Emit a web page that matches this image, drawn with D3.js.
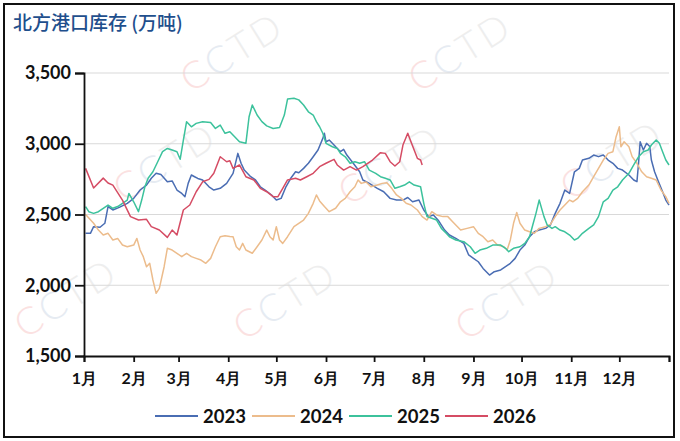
<!DOCTYPE html>
<html lang="zh">
<head>
<meta charset="UTF-8">
<title>北方港口库存</title>
<script src="https://cdn.jsdelivr.net/npm/d3@7/dist/d3.min.js"></script>
<style>
  body { margin: 0; background: #fff; }
  svg { display: block; }
  .tick text { font-family: Lato, "Open Sans", sans-serif; font-weight: 700; }
</style>
</head>
<body>
<script>
// 数据：横轴为一年中的第几天（0-365），纵轴为库存（万吨）
var monthLabels = ['1月','2月','3月','4月','5月','6月','7月','8月','9月','10月','11月','12月'];
var monthStarts = [0,31,59,90,120,151,181,212,243,273,304,334,365];
var yTicks = [1500, 2000, 2500, 3000, 3500];
var years = ['2023','2024','2025','2026'];
var colors = ['#4a6db3', '#ecbc8c', '#3cc29c', '#d54c64'];

var days2023 = [1,4,6,10,13,15,18,22,27,31,35,39,42,45,48,52,55,58,61,63,65,67,69,71,74,78,81,85,89,93,96,98,100,104,107,110,113,117,120,123,126,129,132,134,137,140,143,146,149,150,151,153,156,160,162,164,168,172,174,178,183,187,191,195,199,202,205,209,212,215,218,221,225,228,232,237,240,243,246,249,253,256,260,263,266,269,272,275,278,281,284,288,291,294,297,300,303,306,309,311,315,318,321,324,327,330,333,336,340,343,345,346,347,349,351,353,354,356,358,361,363,365];
var vals2023 = [2367,2367,2414,2410,2438,2556,2532,2550,2579,2614,2673,2708,2756,2791,2783,2731,2737,2673,2649,2626,2720,2779,2767,2755,2744,2696,2673,2685,2720,2791,2932,2862,2814,2767,2744,2696,2673,2638,2602,2614,2696,2756,2802,2795,2826,2862,2908,2956,3038,3074,3014,3026,2991,2944,2960,2920,2862,2802,2744,2720,2685,2661,2614,2602,2602,2620,2590,2602,2532,2485,2497,2460,2390,2355,2331,2296,2214,2190,2166,2119,2072,2096,2108,2131,2155,2190,2249,2284,2343,2378,2390,2402,2426,2508,2579,2673,2649,2802,2826,2885,2897,2920,2909,2920,2885,2862,2826,2814,2779,2744,2732,2862,3014,2956,3003,2980,2885,2802,2744,2661,2602,2567];

var days2024 = [1,6,9,12,15,18,21,24,27,31,33,35,37,39,41,43,45,47,50,52,55,58,61,64,67,70,73,76,79,82,85,88,91,93,95,97,99,101,105,108,111,114,116,118,120,122,124,127,131,134,137,140,143,145,147,150,153,157,160,163,166,169,171,173,176,179,183,186,189,192,195,198,201,204,208,211,214,217,220,224,227,230,235,239,243,246,249,252,255,258,262,264,266,268,270,272,275,278,281,284,288,291,294,297,300,303,305,308,311,315,318,321,324,327,330,332,334,335,337,340,342,345,348,351,354,357,360,363,365];
var vals2024 = [2500,2438,2390,2355,2367,2320,2331,2284,2272,2284,2331,2249,2202,2131,2155,2037,1943,1978,2131,2261,2249,2226,2202,2226,2202,2190,2178,2155,2190,2272,2343,2350,2345,2343,2272,2249,2296,2249,2226,2272,2320,2390,2343,2320,2414,2320,2296,2343,2414,2438,2461,2508,2579,2638,2596,2556,2520,2544,2590,2614,2661,2696,2744,2720,2730,2696,2708,2720,2725,2685,2638,2614,2579,2567,2532,2485,2461,2520,2497,2485,2485,2449,2390,2402,2414,2367,2343,2308,2320,2284,2272,2249,2320,2438,2514,2438,2390,2378,2367,2402,2414,2430,2485,2532,2567,2602,2590,2614,2661,2708,2767,2826,2885,2932,2944,3050,3120,2979,3014,2979,2909,2862,2802,2767,2756,2744,2673,2626,2579];

var days2025 = [1,3,6,9,12,15,18,21,24,27,28,31,34,36,38,40,43,46,49,52,55,58,60,62,64,67,70,74,79,82,85,88,91,94,97,101,103,105,108,111,114,118,122,125,127,131,134,137,140,143,145,147,149,151,155,158,160,163,166,169,172,175,178,182,185,188,191,194,197,200,203,206,210,212,214,217,220,223,226,228,232,237,241,244,247,251,255,260,263,265,268,272,275,278,280,282,284,287,289,292,294,297,300,303,306,308,311,315,318,321,324,327,330,333,336,340,343,346,349,352,354,357,359,361,363,365];
var vals2025 = [2556,2520,2508,2520,2544,2567,2544,2556,2579,2602,2649,2590,2520,2602,2696,2756,2802,2873,2944,2967,2956,2944,2890,3026,3156,3120,3144,3156,3150,3108,3132,3074,3085,3050,3014,3003,3191,3274,3203,3156,3126,3108,3115,3203,3316,3321,3310,3274,3226,3203,3156,3120,3074,3003,2979,2967,2932,2908,2862,2873,2862,2873,2814,2791,2767,2756,2744,2685,2696,2708,2731,2708,2696,2579,2485,2473,2461,2402,2367,2343,2320,2308,2272,2226,2249,2261,2284,2284,2261,2237,2261,2272,2296,2343,2426,2508,2602,2485,2426,2402,2414,2390,2378,2355,2320,2331,2367,2402,2426,2485,2590,2614,2673,2696,2744,2791,2850,2908,2944,2956,2991,3026,3003,2944,2885,2850];

var days2026 = [1,6,12,15,18,24,29,34,39,42,47,52,55,58,62,66,70,74,78,81,85,89,91,93,97,101,106,110,114,118,121,124,127,132,135,139,143,147,151,156,158,162,166,170,174,180,185,188,191,194,197,199,202,204,208,210,211];
var vals2026 = [2826,2687,2757,2723,2708,2602,2485,2461,2466,2414,2390,2338,2390,2355,2532,2567,2661,2731,2748,2791,2908,2873,2880,2826,2850,2767,2744,2685,2661,2626,2626,2685,2744,2756,2744,2767,2791,2838,2862,2890,2850,2814,2838,2814,2838,2885,2937,2932,2873,2843,2873,2991,3074,3014,2897,2885,2850];

var seriesDays = [days2023, days2024, days2025, days2026];
var seriesVals = [vals2023, vals2024, vals2025, vals2026];

var W = 680, H = 441;
var plotL = 84, plotR = 669, plotT = 73, plotB = 356;

var svg = d3.select('body').append('svg').attr('width', W).attr('height', H);
svg.append('rect').attr('width', W).attr('height', H).attr('fill', '#fff');

var x = d3.scaleLinear().domain([0, 365]).range([plotL, plotR]);
var y = d3.scaleLinear().domain([1500, 3500]).range([plotB, plotT]);

// 水印
var marks = [[232, 52], [460, 52], [165, 162], [390, 165], [612, 160], [66, 298], [285, 300], [507, 300]];
var wm = svg.append('g');
marks.forEach(function (m) {
  var t = wm.append('text')
    .attr('transform', 'translate(' + m[0] + ',' + m[1] + ') rotate(-32)')
    .attr('text-anchor', 'middle').attr('dy', '0.35em')
    .attr('font-family', 'Lato, sans-serif').attr('font-weight', 300)
    .attr('font-size', 38).attr('letter-spacing', 3);
  t.append('tspan').attr('fill', '#fbe1e1').text('C');
  t.append('tspan').attr('fill', '#e6ebf2').text('C');
  t.append('tspan').attr('fill', '#eeeeee').text('TD');
});

// 网格
svg.append('g').selectAll('line').data(yTicks.slice(1)).enter().append('line')
  .attr('x1', plotL).attr('x2', plotR)
  .attr('y1', function (d) { return y(d); }).attr('y2', function (d) { return y(d); })
  .attr('stroke', '#d9d9d9').attr('stroke-width', 1.2);

// 折线
var line = d3.line()
  .x(function (d) { return x(d[0]); })
  .y(function (d) { return y(d[1]); });

years.forEach(function (yr, i) {
  var pts = seriesDays[i].map(function (d, j) { return [d, seriesVals[i][j]]; });
  svg.append('path').datum(pts)
    .attr('fill', 'none').attr('stroke', colors[i])
    .attr('stroke-width', 1.5).attr('stroke-linejoin', 'round')
    .attr('d', line);
});

// 坐标轴
var yAxis = svg.append('g').attr('transform', 'translate(' + plotL + ',0)')
  .call(d3.axisLeft(y).tickValues(yTicks).tickFormat(d3.format(',')).tickSize(9).tickPadding(4));
yAxis.selectAll('text').attr('font-size', 18).attr('fill', '#111');

var xAxis = svg.append('g').attr('transform', 'translate(0,' + plotB + ')')
  .call(d3.axisBottom(x).tickValues(monthStarts).tickSize(6).tickPadding(11)
    .tickFormat(function (d, i) { return monthLabels[i] || ''; }));
xAxis.selectAll('text').attr('font-size', 16).attr('fill', '#111')
  .attr('font-family', 'Lato, "Noto Sans CJK SC", sans-serif');

svg.selectAll('.domain, .tick line').attr('stroke', '#111').attr('stroke-width', 1.8);

// 标题
svg.append('text').attr('x', 13).attr('y', 30)
  .attr('font-family', '"Noto Sans CJK SC", sans-serif').attr('font-weight', 500)
  .attr('font-size', 19).attr('fill', '#1f4f8d')
  .text('北方港口库存 (万吨)');

// 图例
var legendX = [155, 252, 349, 445];
var lg = svg.append('g');
years.forEach(function (yr, i) {
  lg.append('line').attr('x1', legendX[i]).attr('x2', legendX[i] + 43)
    .attr('y1', 416).attr('y2', 416)
    .attr('stroke', colors[i]).attr('stroke-width', 1.8);
  lg.append('text').attr('x', legendX[i] + 48).attr('y', 423)
    .attr('font-family', 'Lato, sans-serif').attr('font-weight', 700)
    .attr('font-size', 18.5).attr('fill', '#111').text(yr);
});

// 外框
svg.append('rect').attr('x', 4).attr('y', 4).attr('width', 670).attr('height', 433)
  .attr('fill', 'none').attr('stroke', '#111').attr('stroke-width', 2);
</script>
</body>
</html>
